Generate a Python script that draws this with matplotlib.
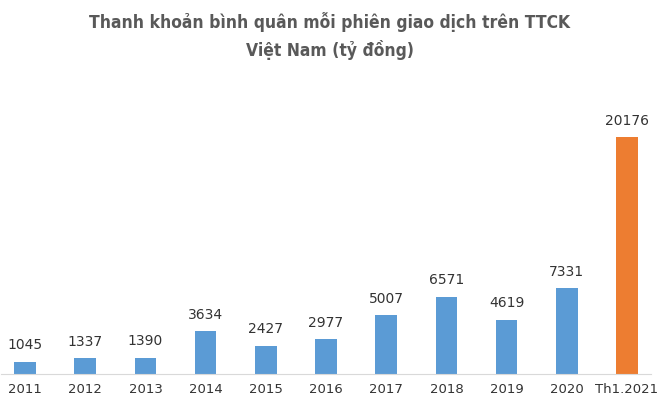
import matplotlib.pyplot as plt

# Data
categories = ['2011', '2012', '2013', '2014', '2015', '2016',
              '2017', '2018', '2019', '2020', 'Th1.2021']
values = [1045, 1337, 1390, 3634, 2427, 2977, 5007, 6571, 4619, 7331, 20176]
bar_colors = ['#5B9BD5'] * 10 + ['#ED7D31']

fig = plt.figure(figsize=(6.6, 4.1), dpi=100)
ax = fig.add_axes([0.0015, 0.085, 0.985, 0.63])

x = range(len(categories))
ax.bar(x, values, width=0.36, color=bar_colors)
for xi, v in zip(x, values):
    ax.text(xi, v + 900, str(v), ha='center', va='bottom', fontsize=10, color='#333333')

ax.set_xlim(-0.4, 10.4)
ax.set_ylim(0, 22000)
ax.set_xticks(list(x))
ax.set_xticklabels(categories, fontsize=9.5, color='#333333')
ax.tick_params(axis='x', length=0, pad=6)
ax.set_yticks([])
for s in ['top', 'right', 'left']:
    ax.spines[s].set_visible(False)
ax.spines['bottom'].set_color('#D9D9D9')

fig.text(0.5, 0.912, 'Thanh khoản bình quân mỗi phiên giao dịch trên TTCK\nViệt Nam (tỷ đồng)',
         ha='center', va='center', fontsize=12.5, fontweight='bold', color='#595959',
         linespacing=1.5, fontfamily=['Liberation Sans Narrow', 'DejaVu Sans'],
         fontstretch='condensed')

fig.savefig('out.png', dpi=100)
